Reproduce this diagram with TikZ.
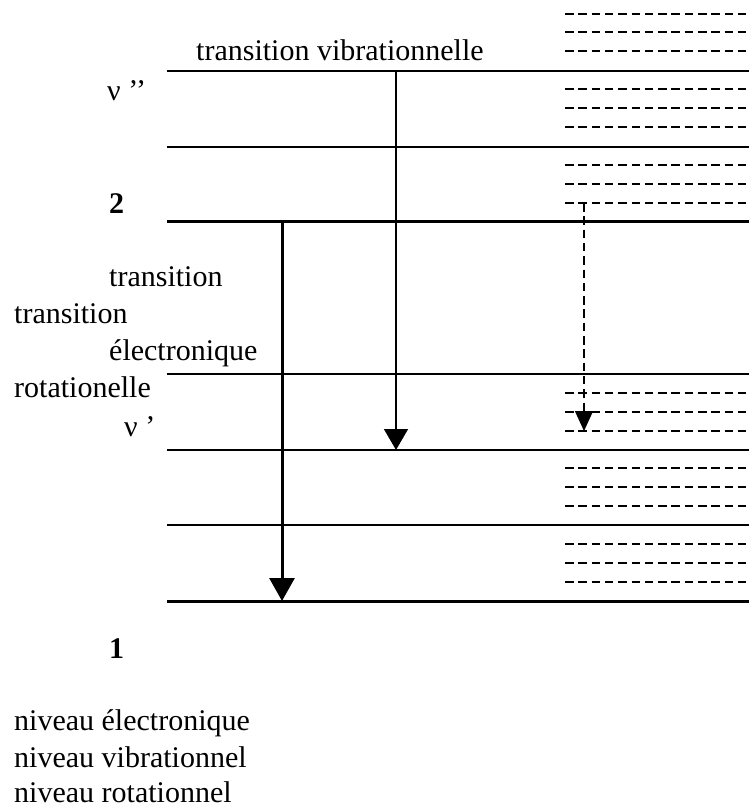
\documentclass[tikz,border=0pt]{standalone}
\usepackage{fontspec}
\setmainfont{Liberation Serif}
\usetikzlibrary{arrows.meta}
\begin{document}
\begin{tikzpicture}[x=1pt,y=-1pt,
  thinlvl/.style={line width=1.5pt},
  thicklvl/.style={line width=3pt},
  rotlvl/.style={line width=1.5pt, dash pattern=on 8.5pt off 4.8pt},
  lbl/.style={inner sep=0pt, anchor=base west, font=\fontsize{30}{36}\selectfont},
  vibarrow/.style={line width=1.5pt, -{Triangle[width=24pt,length=21pt]}},
  elecarrow/.style={line width=3pt, -{Triangle[width=25pt,length=23pt]}},
  rotarrow/.style={line width=1.5pt, dash pattern=on 8.5pt off 4.8pt, -{Triangle[width=18pt,length=20pt]}}]
\useasboundingbox (0,0) rectangle (749,807);
% vibrational levels
\foreach \y [count=\i] in {71,147,374,450,525} {
  \coordinate (v\i a) at (167,\y);
  \coordinate (v\i b) at (749,\y);
  \draw[thinlvl] (v\i a) -- (v\i b);
}
% electronic levels
\coordinate (e2a) at (167,221); \coordinate (e2b) at (749,221);
\coordinate (e1a) at (167,601); \coordinate (e1b) at (749,601);
\draw[thicklvl] (e2a) -- (e2b);
\draw[thicklvl] (e1a) -- (e1b);
% rotational levels
\foreach \y [count=\i] in {14,32,51,89,108,127,165,184,203,393,412,431,468,487,506,544,563,582} {
  \coordinate (r\i a) at (565,\y);
  \coordinate (r\i b) at (749,\y);
  \draw[rotlvl] (r\i a) -- (r\i b);
}
% transitions
\coordinate (vibtop) at (396,71);  \coordinate (vibbot) at (396,450);
\coordinate (eltop) at (282,221);  \coordinate (elbot) at (282,601);
\coordinate (rottop) at (584,203); \coordinate (rotbot) at (584,431);
\draw[vibarrow] (vibtop) -- (vibbot);
\draw[elecarrow] (eltop) -- (elbot);
\draw[rotarrow] (rottop) -- (rotbot);
% labels
\node[lbl] (tv) at (196,60) {transition vibrationnelle};
\node[lbl] (nu2) at (107,100) {ν ’’};
\node[lbl] (n2) at (109,213) {\textbf{2}};
\node[lbl] (t1) at (109,286) {transition};
\node[lbl] (t2) at (14,323) {transition};
\node[lbl] (el) at (109,360) {électronique};
\node[lbl] (ro) at (14,397) {rotationelle};
\node[lbl] (nu1) at (124,436) {ν ’};
\node[lbl] (n1) at (109,658) {\textbf{1}};
\node[lbl] (ne) at (14,730) {niveau électronique};
\node[lbl] (nv) at (14,767) {niveau vibrationnel};
\node[lbl, text depth=0pt] (nr) at (14,802) {niveau rotationnel};
\end{tikzpicture}
\end{document}
